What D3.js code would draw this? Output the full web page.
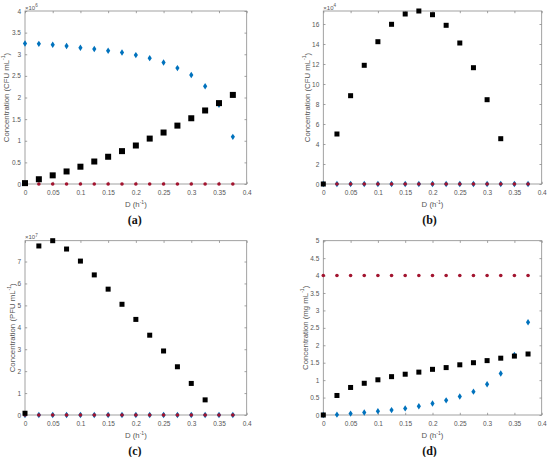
<!DOCTYPE html>
<html>
<head>
<meta charset="utf-8">
<script src="https://cdn.jsdelivr.net/npm/d3@7"></script>
<style>
  html, body { margin: 0; padding: 0; background: #fff; }
  svg { display: block; font-family: "Liberation Sans", Arial, sans-serif; }
</style>
</head>
<body>
<svg id="chart" width="550" height="457"></svg>
<script>
// ---------- data ----------
const dilution = [0, 0.025, 0.05, 0.075, 0.1, 0.125, 0.15, 0.175, 0.2, 0.225, 0.25, 0.275, 0.3, 0.325, 0.35, 0.375];
const xTicks = [0, 0.05, 0.1, 0.15, 0.2, 0.25, 0.3, 0.35, 0.4];

// (a) bacteria, x10^6 CFU/mL
const blueA  = [3.25, 3.24, 3.22, 3.19, 3.15, 3.12, 3.08, 3.04, 2.98, 2.91, 2.81, 2.68, 2.52, 2.26, 1.83, 1.09];
const blackA = [0.02, 0.11, 0.20, 0.29, 0.40, 0.52, 0.63, 0.76, 0.89, 1.05, 1.19, 1.35, 1.52, 1.70, 1.87, 2.06];
const redA   = [0, 0, 0, 0, 0, 0, 0, 0, 0, 0, 0, 0, 0, 0, 0, 0];
const yTicksA = [0, 0.5, 1, 1.5, 2, 2.5, 3, 3.5, 4];

// (b) bacteria, x10^4 CFU/mL
const blueB  = [0, 0, 0, 0, 0, 0, 0, 0, 0, 0, 0, 0, 0, 0, 0, 0];
const blackB = [0, 5.0, 8.83, 11.87, 14.23, 15.97, 17.0, 17.3, 16.93, 15.87, 14.1, 11.63, 8.43, 4.53];
const redB   = [0, 0, 0, 0, 0, 0, 0, 0, 0, 0, 0, 0, 0, 0, 0, 0];
const yTicksB = [0, 2, 4, 6, 8, 10, 12, 14, 16];

// (c) phage, x10^7 PFU/mL
const blueC  = [0, 0, 0, 0, 0, 0, 0, 0, 0, 0, 0, 0, 0, 0, 0, 0];
const blackC = [0.08, 7.71, 7.95, 7.57, 7.02, 6.39, 5.74, 5.05, 4.36, 3.64, 2.92, 2.20, 1.44, 0.69];
const redC   = [0, 0, 0, 0, 0, 0, 0, 0, 0, 0, 0, 0, 0, 0, 0, 0];
const yTicksC = [0, 1, 2, 3, 4, 5, 6, 7];

// (d) substrate, mg/mL
const blueD  = [0, 0.01, 0.04, 0.07, 0.11, 0.14, 0.19, 0.25, 0.33, 0.42, 0.53, 0.67, 0.88, 1.19, 1.72, 2.66];
const blackD = [0, 0.56, 0.79, 0.91, 1.01, 1.10, 1.17, 1.23, 1.31, 1.36, 1.44, 1.50, 1.56, 1.63, 1.69, 1.75];
const redD   = [4, 4, 4, 4, 4, 4, 4, 4, 4, 4, 4, 4, 4, 4, 4, 4];
const yTicksD = [0, 0.5, 1, 1.5, 2, 2.5, 3, 3.5, 4, 4.5, 5];

// ---------- drawing ----------
const svg = d3.select("#chart");
const BLUE = "#0072BD", RED = "#A2142F", AXIS = "#8a8a8a", TXT = "#555";

const panels = [
  { left: 25,    top: 11,    width: 221.7, height: 173, ymax: 4, yTicks: yTicksA, exp: "6", unit: "CFU", caption: "(a)",
    blue: blueA, black: blackA, red: redA, sq: 6, labelX: 6, capDx: -1 },
  { left: 323.3, top: 11,    width: 218.4, height: 173, ymax: d3.max(blackB), yTicks: yTicksB, exp: "4", unit: "CFU", caption: "(b)",
    blue: blueB, black: blackB, red: redB, sq: 5, labelX: 306.5, capDx: -3 },
  { left: 25,    top: 240.7, width: 221.7, height: 174.3, ymax: d3.max(blackC), yTicks: yTicksC, exp: "7", unit: "PFU", caption: "(c)",
    blue: blueC, black: blackC, red: redC, sq: 5, labelX: 12, capDx: -1 },
  { left: 323.3, top: 240.7, width: 218.4, height: 174.3, ymax: 5, yTicks: yTicksD, exp: null, unit: "mg", caption: "(d)",
    blue: blueD, black: blackD, red: redD, sq: 5, labelX: 304.5, capDx: -3 }
];

function fmt(v) { return String(+v.toFixed(3)); }

panels.forEach(p => {
  const g = svg.append("g").attr("transform", `translate(${p.left},${p.top})`);
  const x = d3.scaleLinear().domain([0, 0.4]).range([0, p.width]);
  const y = d3.scaleLinear().domain([0, p.ymax]).range([p.height, 0]);

  // box
  g.append("rect").attr("width", p.width).attr("height", p.height)
    .attr("fill", "none").attr("stroke", AXIS).attr("stroke-width", 0.8);

  const styleAxis = sel => {
    sel.select(".domain").remove();
    sel.selectAll(".tick line").attr("stroke", AXIS).attr("stroke-width", 0.8);
    sel.selectAll(".tick text").attr("fill", TXT).attr("font-size", 6.5);
  };

  g.append("g").attr("transform", `translate(0,${p.height})`)
    .call(d3.axisBottom(x).tickValues(xTicks).tickSize(-2.2).tickPadding(6).tickFormat(fmt))
    .call(styleAxis);
  g.append("g")
    .call(d3.axisTop(x).tickValues(xTicks).tickSize(-2.2).tickFormat(""))
    .call(styleAxis);
  g.append("g")
    .call(d3.axisLeft(y).tickValues(p.yTicks).tickSize(-2.2).tickPadding(4).tickFormat(fmt))
    .call(styleAxis);
  g.append("g").attr("transform", `translate(${p.width},0)`)
    .call(d3.axisRight(y).tickValues(p.yTicks).tickSize(-2.2).tickFormat(""))
    .call(styleAxis);

  // exponent
  if (p.exp) {
    const t = g.append("text").attr("x", 0).attr("y", -1.5).attr("fill", TXT).attr("font-size", 6);
    t.append("tspan").text("\u00d710");
    t.append("tspan").attr("dy", -2.5).attr("font-size", 4.5).text(p.exp);
  }

  // x label
  const xl = g.append("text").attr("x", p.width / 2).attr("y", p.height + 23)
    .attr("text-anchor", "middle").attr("fill", TXT).attr("font-size", 7.8);
  xl.append("tspan").text("D (h");
  xl.append("tspan").attr("dy", -3).attr("font-size", 5).text("-1");
  xl.append("tspan").attr("dy", 3).text(")");

  // y label
  const yl = svg.append("text")
    .attr("transform", `translate(${p.labelX},${p.top + p.height / 2}) rotate(-90)`)
    .attr("text-anchor", "middle").attr("dominant-baseline", "central")
    .attr("fill", TXT).attr("font-size", 7.8);
  yl.append("tspan").text(`Concentration (${p.unit} mL`);
  yl.append("tspan").attr("dy", -3).attr("font-size", 5).text("-1");
  yl.append("tspan").attr("dy", 3).text(")");

  // caption
  svg.append("text").attr("x", p.left + p.width / 2 + p.capDx).attr("y", p.top + p.height + 39.5)
    .attr("text-anchor", "middle").attr("font-family", "Liberation Serif, Times New Roman, serif")
    .attr("font-weight", "bold").attr("font-size", 12).attr("fill", "#111").text(p.caption);

  // blue diamonds
  g.selectAll(".blue").data(p.blue).join("path")
    .attr("transform", (d, i) => `translate(${x(dilution[i])},${y(d)})`)
    .attr("d", "M0,-3.2L2.1,0L0,3.2L-2.1,0Z").attr("fill", BLUE);
  // red dots
  g.selectAll(".red").data(p.red).join("circle")
    .attr("cx", (d, i) => x(dilution[i])).attr("cy", d => y(d)).attr("r", 1.8).attr("fill", RED);
  // black squares
  g.selectAll(".black").data(p.black).join("rect")
    .attr("x", (d, i) => x(dilution[i]) - p.sq / 2).attr("y", d => y(d) - p.sq / 2)
    .attr("width", p.sq).attr("height", p.sq).attr("fill", "#000");
});
</script>
</body>
</html>
